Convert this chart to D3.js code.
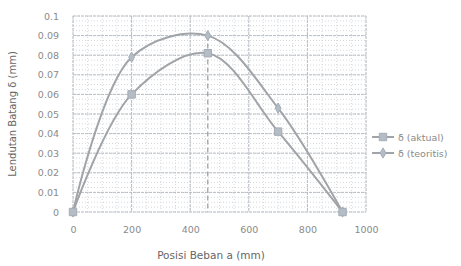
<!DOCTYPE html>
<html>
<head>
<meta charset="utf-8">
<script src="https://cdn.jsdelivr.net/npm/d3@7"></script>
<style>
  body { margin: 0; background: #fff; }
  text { font-family: "DejaVu Sans", sans-serif; }
</style>
</head>
<body>
<div id="chart"></div>
<script>
// data
var posisi = [0, 200, 460, 700, 920];
var aktual = [0, 0.06, 0.081, 0.041, 0];
var teoritis = [0, 0.079, 0.090, 0.053, 0];
var xTicks = [0, 200, 400, 600, 800, 1000];
var yTicks = [0, 0.01, 0.02, 0.03, 0.04, 0.05, 0.06, 0.07, 0.08, 0.09, 0.1];
var seriesNames = ["\u03b4 (aktual)", "\u03b4 (teoritis)"];
var posisiPuncak = 460;

var svg = d3.select('#chart').append('svg').attr("width", 461).attr("height", 266);

var mLeft = 73, mRight = 366, mTop = 16, mBottom = 212;

var x_scale = d3.scaleLinear().domain([0, 1000]).range([mLeft, mRight]);
var y_scale = d3.scaleLinear().domain([0, 0.1]).range([mBottom, mTop]);

// minor grid
var grid = svg.append("g");
grid.selectAll("line.minx")
    .data(d3.range(0, 1001, 50))
    .enter().append("line")
    .attr("x1", function (d) { return x_scale(d); })
    .attr("x2", function (d) { return x_scale(d); })
    .attr("y1", mTop).attr("y2", mBottom)
    .style("stroke", "#d4d8dc").style("stroke-dasharray", "1,2");
grid.selectAll("line.miny")
    .data(d3.range(0, 0.1001, 0.0025))
    .enter().append("line")
    .attr("x1", mLeft).attr("x2", mRight)
    .attr("y1", function (d) { return y_scale(d); })
    .attr("y2", function (d) { return y_scale(d); })
    .style("stroke", "#d4d8dc").style("stroke-dasharray", "1,2");
// major grid
grid.selectAll("line.majx")
    .data(xTicks)
    .enter().append("line")
    .attr("x1", function (d) { return x_scale(d); })
    .attr("x2", function (d) { return x_scale(d); })
    .attr("y1", mTop).attr("y2", mBottom)
    .style("stroke", "#b8bec4").style("stroke-dasharray", "3,1");
grid.selectAll("line.majy")
    .data(yTicks)
    .enter().append("line")
    .attr("x1", mLeft).attr("x2", mRight)
    .attr("y1", function (d) { return y_scale(d); })
    .attr("y2", function (d) { return y_scale(d); })
    .style("stroke", "#b8bec4").style("stroke-dasharray", "3,1");

// axes (labels only)
var x_axis = d3.axisBottom(x_scale).tickValues(xTicks).tickSize(0).tickPadding(14)
    .tickFormat(d3.format("d"));
var y_axis = d3.axisLeft(y_scale).tickValues(yTicks).tickSize(0).tickPadding(14)
    .tickFormat(function (d) { return d === 0 ? "0" : String(+d.toFixed(2)); });
var gx = svg.append("g").attr("transform", "translate(0," + mBottom + ")").call(x_axis);
var gy = svg.append("g").attr("transform", "translate(" + mLeft + ",0)").call(y_axis);
[gx, gy].forEach(function (g) {
    g.select(".domain").remove();
    g.selectAll("text").style("font-size", "9.5px").style("fill", "#8a8a8a");
});

// dashed line at the load position
svg.append("line")
    .attr("x1", x_scale(posisiPuncak)).attr("x2", x_scale(posisiPuncak))
    .attr("y1", y_scale(teoritis[2])).attr("y2", mBottom)
    .style("stroke", "#999").style("stroke-width", 1.2).style("stroke-dasharray", "5,3");

var line = d3.line().curve(d3.curveCatmullRom.alpha(0.5));

function drawSeries(vals, marker) {
    var pts = posisi.map(function (p, i) { return [x_scale(p), y_scale(vals[i])]; });
    svg.append("path").attr("d", line(pts))
        .style("fill", "none").style("stroke", "#a0a4a8").style("stroke-width", 2);
    svg.selectAll(null).data(pts).enter().append("path")
        .attr("transform", function (d) { return "translate(" + d[0] + "," + d[1] + ")"; })
        .attr("d", marker)
        .style("fill", "#b4bcc6").style("stroke", "#a4acb6");
}
var square = d3.symbol().type(d3.symbolSquare).size(55)();
var diamond = d3.symbol().type(d3.symbolDiamond).size(30)();
drawSeries(teoritis, diamond);
drawSeries(aktual, square);

// legend
var legend = svg.append("g");
[square, diamond].forEach(function (m, i) {
    var y = 137 + i * 16;
    legend.append("line").attr("x1", 372).attr("x2", 394).attr("y1", y).attr("y2", y)
        .style("stroke", "#a0a4a8").style("stroke-width", 2);
    legend.append("path").attr("transform", "translate(383," + y + ")").attr("d", m)
        .style("fill", "#b4bcc6").style("stroke", "#a4acb6");
    legend.append("text").attr("x", 398).attr("y", y + 3.5)
        .style("font-size", "9.5px").style("fill", "#8a8a8a").text(seriesNames[i]);
});

// axis titles
svg.append("text")
    .attr("text-anchor", "middle")
    .attr("x", 211).attr("y", 259)
    .style("font-size", "10.5px").style("fill", "#666")
    .text("Posisi Beban a (mm)");
svg.append("text")
    .attr("text-anchor", "middle")
    .attr("transform", "rotate(-90)")
    .attr("x", -114).attr("y", 16)
    .style("font-size", "10px").style("fill", "#666")
    .text("Lendutan Batang \u03b4 (mm)");
</script>
</body>
</html>
